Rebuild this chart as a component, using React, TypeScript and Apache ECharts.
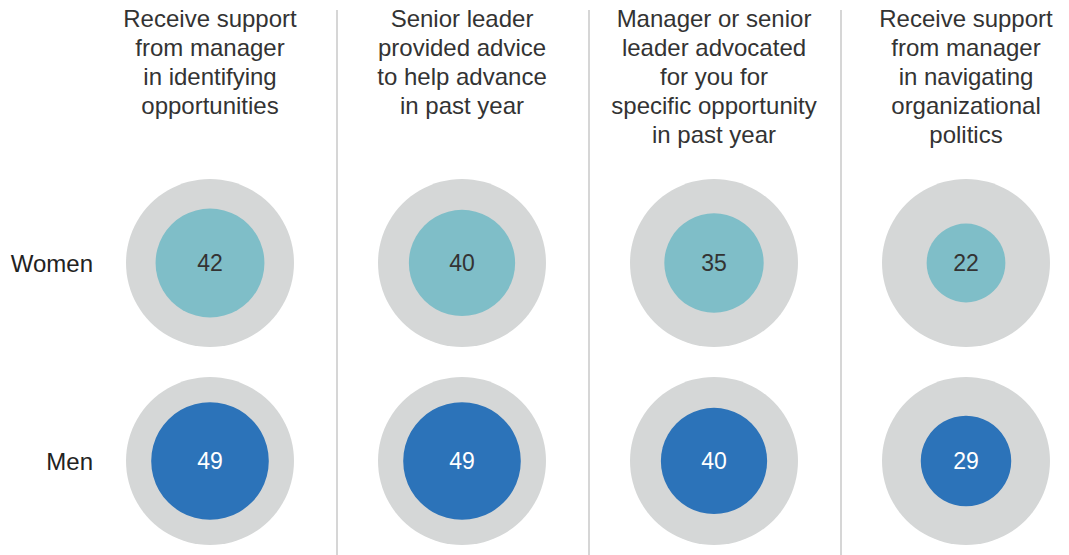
import React, { useEffect, useRef } from "react";
import * as echarts from "echarts";

const categories = [
  "Receive support\nfrom manager\nin identifying\nopportunities",
  "Senior leader\nprovided advice\nto help advance\nin past year",
  "Manager or senior\nleader advocated\nfor you for\nspecific opportunity\nin past year",
  "Receive support\nfrom manager\nin navigating\norganizational\npolitics",
];
const groups = ["Women", "Men"];
const womenValues = [42, 40, 35, 22];
const menValues = [49, 49, 40, 29];
const fullValue = 100;

const OUTER = 168;
const FONT = "'Liberation Sans', Arial, Helvetica, sans-serif";

export default function App() {
  const ref = useRef<HTMLDivElement>(null);
  useEffect(() => {
    if (!ref.current) return;
    const chart = echarts.init(ref.current, null, { renderer: "svg" });
    const sizeOf = (v: number) => OUTER * Math.sqrt(v / fullValue);
    const bg = [] as any[];
    categories.forEach((_, i) => {
      groups.forEach((_, j) => bg.push([i, j, fullValue]));
    });
    const mk = (vals: number[], row: number) => vals.map((v, i) => [i, row, v]);
    chart.setOption({
      animation: false,
      textStyle: { fontFamily: FONT },
      grid: [
        { left: 84, width: 1009, top: 10, bottom: 0, outerBoundsMode: "none" },
        { left: 210, right: 103, top: 263, bottom: 94, outerBoundsMode: "none" },
      ],
      xAxis: [
        {
          type: "category",
          gridIndex: 0,
          data: categories,
          boundaryGap: true,
          axisLine: { show: false },
          axisTick: { show: false },
          axisLabel: { show: false },
          splitLine: {
            show: true,
            showMinLine: false,
            showMaxLine: false,
            lineStyle: { color: "#c8c8c8", width: 1.5 },
          },
        },
        {
          type: "category",
          gridIndex: 1,
          position: "top",
          data: categories,
          boundaryGap: false,
          axisLine: { show: false },
          axisTick: { show: false },
          splitLine: { show: false },
          axisLabel: {
            interval: 0,
            margin: 259.5,
            verticalAlign: "top",
            align: "center",
            fontSize: 24,
            lineHeight: 29,
            color: "#333333",
            fontFamily: FONT,
          },
        },
      ],
      yAxis: [
        { type: "value", gridIndex: 0, show: false },
        {
          type: "category",
          gridIndex: 1,
          data: groups,
          inverse: true,
          boundaryGap: false,
          axisLine: { show: false },
          axisTick: { show: false },
          splitLine: { show: false },
          axisLabel: {
            margin: 117,
            align: "right",
            verticalAlign: "middle",
            fontSize: 24,
            color: "#222222",
            fontFamily: FONT,
          },
        },
      ],
      series: [
        {
          type: "scatter",
          xAxisIndex: 1,
          yAxisIndex: 1,
          data: bg,
          symbol: "circle",
          symbolSize: OUTER,
          itemStyle: { color: "#d5d7d7", opacity: 1 },
          silent: true,
          z: 1,
        },
        {
          type: "scatter",
          name: "Women",
          xAxisIndex: 1,
          yAxisIndex: 1,
          data: mk(womenValues, 0),
          symbol: "circle",
          symbolSize: (d: any) => sizeOf(d[2]),
          itemStyle: { color: "#7fbec8", opacity: 1 },
          label: {
            show: true,
            position: "inside",
            formatter: (p: any) => String(p.value[2]),
            fontSize: 23,
            color: "#333333",
            fontFamily: FONT,
          },
          z: 2,
        },
        {
          type: "scatter",
          name: "Men",
          xAxisIndex: 1,
          yAxisIndex: 1,
          data: mk(menValues, 1),
          symbol: "circle",
          symbolSize: (d: any) => sizeOf(d[2]),
          itemStyle: { color: "#2c73b9", opacity: 1 },
          label: {
            show: true,
            position: "inside",
            formatter: (p: any) => String(p.value[2]),
            fontSize: 23,
            color: "#ffffff",
            fontFamily: FONT,
          },
          z: 2,
        },
      ],
    });
    return () => chart.dispose();
  }, []);
  return (
    <div
      ref={ref}
      style={{ position: "fixed", left: 0, top: 0, width: 1069, height: 555, background: "#ffffff" }}
    />
  );
}
